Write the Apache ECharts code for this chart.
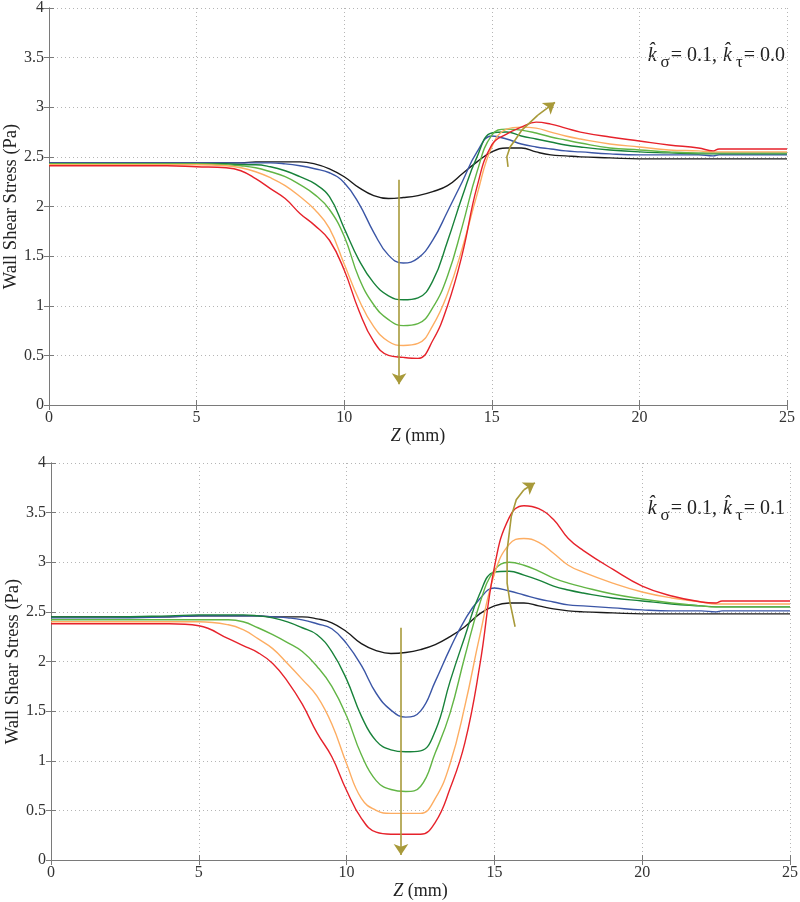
<!DOCTYPE html>
<html><head><meta charset="utf-8">
<script src="https://cdn.jsdelivr.net/npm/echarts@6/dist/echarts.min.js"></script>
<style>html,body{margin:0;padding:0;background:#fff}#c{width:800px;height:902px}</style>
</head><body><div id="c"></div>
<script>
// axial position grid (mm), shared by all curves
const zGrid = [0, 2, 4, 5, 6, 6.5, 7, 7.5, 8, 8.5, 9, 9.5, 10, 10.5, 11, 11.5, 12, 12.5, 13, 13.5, 14, 14.5, 15, 15.5, 16, 16.5, 17, 17.5, 18, 19, 20, 21, 22, 22.5, 22.7, 25];

// top panel: k_sigma = 0.1, k_tau = 0.0
const topBlack  = [2.44,2.44,2.44,2.44,2.44,2.44,2.45,2.45,2.45,2.45,2.43,2.38,2.30,2.19,2.11,2.08,2.09,2.11,2.15,2.21,2.33,2.45,2.55,2.59,2.59,2.55,2.52,2.51,2.50,2.49,2.48,2.48,2.48,2.48,2.48,2.48];
const topBlue   = [2.44,2.44,2.44,2.44,2.44,2.44,2.44,2.44,2.43,2.41,2.38,2.34,2.24,2.03,1.74,1.51,1.43,1.48,1.66,1.95,2.25,2.55,2.71,2.68,2.63,2.60,2.58,2.56,2.55,2.53,2.52,2.52,2.52,2.51,2.52,2.52];
const topDGreen = [2.43,2.43,2.43,2.43,2.43,2.42,2.42,2.40,2.36,2.30,2.23,2.10,1.78,1.46,1.23,1.10,1.06,1.08,1.25,1.65,2.10,2.50,2.74,2.75,2.71,2.68,2.65,2.62,2.60,2.57,2.55,2.54,2.53,2.53,2.53,2.53];
const topLGreen = [2.43,2.43,2.43,2.43,2.42,2.41,2.39,2.35,2.30,2.22,2.12,1.97,1.70,1.28,1.01,0.86,0.80,0.82,0.98,1.30,1.80,2.35,2.72,2.78,2.77,2.74,2.70,2.67,2.64,2.59,2.57,2.55,2.54,2.54,2.54,2.54];
const topOrange = [2.42,2.42,2.42,2.42,2.41,2.39,2.35,2.29,2.21,2.10,1.97,1.78,1.42,1.06,0.79,0.64,0.60,0.62,0.80,1.12,1.58,2.12,2.60,2.78,2.80,2.79,2.75,2.71,2.68,2.63,2.60,2.57,2.56,2.55,2.55,2.55];
const topRed    = [2.41,2.41,2.41,2.40,2.39,2.36,2.28,2.18,2.08,1.93,1.81,1.66,1.36,0.95,0.64,0.50,0.48,0.47,0.65,1.00,1.52,2.20,2.62,2.73,2.80,2.85,2.83,2.79,2.75,2.70,2.66,2.62,2.59,2.56,2.58,2.58];

// bottom panel: k_sigma = 0.1, k_tau = 0.1
const botBlack  = [2.45,2.45,2.45,2.46,2.46,2.46,2.46,2.45,2.45,2.45,2.43,2.39,2.30,2.18,2.11,2.08,2.09,2.12,2.17,2.25,2.35,2.48,2.56,2.59,2.59,2.56,2.53,2.51,2.50,2.49,2.48,2.48,2.48,2.48,2.48,2.48];
const botBlue   = [2.44,2.44,2.45,2.46,2.46,2.46,2.46,2.45,2.44,2.42,2.38,2.33,2.18,1.96,1.68,1.51,1.44,1.50,1.80,2.13,2.42,2.63,2.74,2.71,2.67,2.63,2.60,2.57,2.56,2.54,2.52,2.51,2.51,2.50,2.51,2.51];
const botDGreen = [2.45,2.45,2.46,2.47,2.47,2.47,2.46,2.44,2.40,2.34,2.27,2.10,1.82,1.45,1.20,1.11,1.09,1.10,1.30,1.80,2.25,2.68,2.90,2.91,2.87,2.82,2.76,2.72,2.69,2.64,2.61,2.58,2.56,2.55,2.55,2.55];
const botLGreen = [2.42,2.42,2.42,2.42,2.42,2.40,2.34,2.27,2.19,2.10,1.95,1.75,1.45,1.06,0.80,0.71,0.69,0.74,1.08,1.48,2.05,2.58,2.92,3.00,2.97,2.91,2.84,2.79,2.75,2.68,2.63,2.59,2.56,2.55,2.55,2.55];
const botOrange = [2.40,2.40,2.40,2.40,2.37,2.32,2.23,2.13,1.98,1.82,1.65,1.37,0.97,0.62,0.50,0.47,0.47,0.47,0.62,0.97,1.55,2.25,2.88,3.18,3.24,3.20,3.09,2.97,2.90,2.79,2.70,2.64,2.60,2.58,2.58,2.58];
const botRed    = [2.38,2.38,2.38,2.36,2.23,2.16,2.09,1.98,1.80,1.57,1.28,1.04,0.70,0.42,0.28,0.26,0.26,0.26,0.38,0.72,1.18,1.95,2.95,3.45,3.57,3.54,3.43,3.24,3.12,2.93,2.76,2.66,2.60,2.59,2.61,2.61];

// annotation arrows (data coordinates)
const topDownArrow  = [[11.86, 2.27], [11.86, 0.21]];
const topCurveArrow = [[15.55, 2.40], [15.51, 2.50], [15.62, 2.60], [15.79, 2.67], [16.02, 2.77], [16.56, 2.92], [17.14, 3.05]];
const botDownArrow  = [[11.84, 2.34], [11.84, 0.05]];
const botCurveArrow = [[15.70, 2.35], [15.53, 2.59], [15.43, 2.79], [15.43, 3.12], [15.57, 3.46], [15.74, 3.63], [16.00, 3.73], [16.37, 3.80]];

const xTicks = [0, 5, 10, 15, 20, 25];
const yTicks = [0, 0.5, 1, 1.5, 2, 2.5, 3, 3.5, 4];
const panelTau = ['0.0', '0.1'];

const colors = ['#1a1a1a', '#3b56a6', '#18823a', '#62b545', '#fdad62', '#e6222b'];
const topSets = [topBlack, topBlue, topDGreen, topLGreen, topOrange, topRed];
const botSets = [botBlack, botBlue, botDGreen, botLGreen, botOrange, botRed];

const FONT = 'Liberation Serif';
const axisGray = '#7a7a7a';
const arrowColor = '#a89a3a';

function xAxes(gridIndex) {
  return [{
    gridIndex, type: 'value', min: xTicks[0], max: xTicks[xTicks.length - 1], interval: 5,
    name: '{i|Z} (mm)', nameLocation: 'middle', nameGap: 22, nameMoveOverlap: false,
    nameTextStyle: { fontFamily: FONT, fontSize: 18, color: '#222', rich: { i: { fontFamily: FONT, fontStyle: 'italic', fontSize: 18, color: '#222' } } },
    axisLine: { show: true, lineStyle: { color: axisGray, width: 1 } },
    axisTick: { show: true, inside: true, length: 5, lineStyle: { color: axisGray } },
    axisLabel: { fontFamily: FONT, fontSize: 16, color: '#333', margin: 5 },
    splitLine: { show: true, lineStyle: { color: '#b5b5b5', type: [1, 3], width: 1 } }
  }, {
    gridIndex, type: 'value', position: 'top', min: 0, max: 25, interval: 5,
    axisLine: { show: true, lineStyle: { color: axisGray, width: 1 } },
    axisTick: { show: true, inside: true, length: 5, lineStyle: { color: axisGray } },
    axisLabel: { show: false }, splitLine: { show: false }
  }];
}
function yAxes(gridIndex) {
  return [{
    gridIndex, type: 'value', min: yTicks[0], max: yTicks[yTicks.length - 1], interval: 0.5,
    name: 'Wall Shear Stress (Pa)', nameLocation: 'middle', nameGap: 28, nameMoveOverlap: false,
    nameTextStyle: { fontFamily: FONT, fontSize: 18.5, color: '#222' },
    axisLine: { show: true, lineStyle: { color: axisGray, width: 1 } },
    axisTick: { show: true, inside: true, length: 5, lineStyle: { color: axisGray } },
    axisLabel: { fontFamily: FONT, fontSize: 16, color: '#333', margin: 5 },
    splitLine: { show: true, lineStyle: { color: '#b5b5b5', type: [1, 3], width: 1 } }
  }, {
    gridIndex, type: 'value', position: 'right', min: 0, max: 4, interval: 0.5,
    axisLine: { show: true, lineStyle: { color: axisGray, width: 1 } },
    axisTick: { show: true, inside: true, length: 5, lineStyle: { color: axisGray } },
    axisLabel: { show: false }, splitLine: { show: false }
  }];
}

const series = [];
[topSets, botSets].forEach((sets, g) => {
  sets.forEach((vals, i) => {
    series.push({
      type: 'line', xAxisIndex: g * 2, yAxisIndex: g * 2,
      data: zGrid.map((z, k) => [z, vals[k]]),
      showSymbol: false, smooth: 0.45,
      lineStyle: { color: colors[i], width: 1.4 }, z: 3 + i, silent: true
    });
  });
});
[[topDownArrow, topCurveArrow, 0], [botDownArrow, botCurveArrow, 1]].forEach(([a, b, g]) => {
  series.push({
    type: 'lines', coordinateSystem: 'cartesian2d', xAxisIndex: g * 2, yAxisIndex: g * 2,
    polyline: true, silent: true, z: 10,
    lineStyle: { color: arrowColor, width: 1.6, opacity: 1 },
    data: [{ coords: b.slice(0, b.length - 1) }]
  });
  series.push({
    type: 'lines', coordinateSystem: 'cartesian2d', xAxisIndex: g * 2, yAxisIndex: g * 2,
    symbol: ['none', 'arrow'], symbolSize: [8, 11], silent: true, z: 10,
    lineStyle: { color: arrowColor, width: 1.6, opacity: 1, curveness: 0 },
    data: [{ coords: a }, { coords: b.slice(b.length - 2) }]
  });
});

// parameter label built from pieces: main text + lowered subscripts
const kFont = 'italic 20px "' + FONT + '"';
const mainFont = '20px "' + FONT + '"';
const subFont = '17px "' + FONT + '"';
const mctx = document.createElement('canvas').getContext('2d');
function tw(t, f) { mctx.font = f; return mctx.measureText(t).width; }
function labelGroup(tau, rightX, baseY) {
  const parts = [
    ['k̂', kFont, 0, 4], ['σ', subFont, 8, 1], ['= 0.1, ', mainFont, 0, 1],
    ['k̂', kFont, 0, 4], ['τ', subFont, 8, 1], ['= ' + tau, mainFont, 0, 0]
  ];
  const total = parts.reduce((s, p) => s + tw(p[0], p[1]) + p[3], 0);
  let x = rightX - total;
  const els = [];
  parts.forEach(p => {
    els.push({ type: 'text', x: x, y: baseY + p[2], style: { text: p[0], font: p[1], fill: '#222', verticalAlign: 'alphabetic' } });
    x += tw(p[0], p[1]) + p[3];
  });
  return els;
}

const chart = echarts.init(document.getElementById('c'));
chart.setOption({
  backgroundColor: '#fff',
  animation: false,
  grid: [
    { left: 49, right: 13, top: 8, height: 397, outerBoundsMode: 'none', containLabel: false },
    { left: 51, right: 10, top: 463, height: 397, outerBoundsMode: 'none', containLabel: false }
  ],
  xAxis: [...xAxes(0), ...xAxes(1)],
  yAxis: [...yAxes(0), ...yAxes(1)],
  series,
  graphic: [...labelGroup(panelTau[0], 785, 46), ...labelGroup(panelTau[1], 785, 499)]
});
</script></body></html>
